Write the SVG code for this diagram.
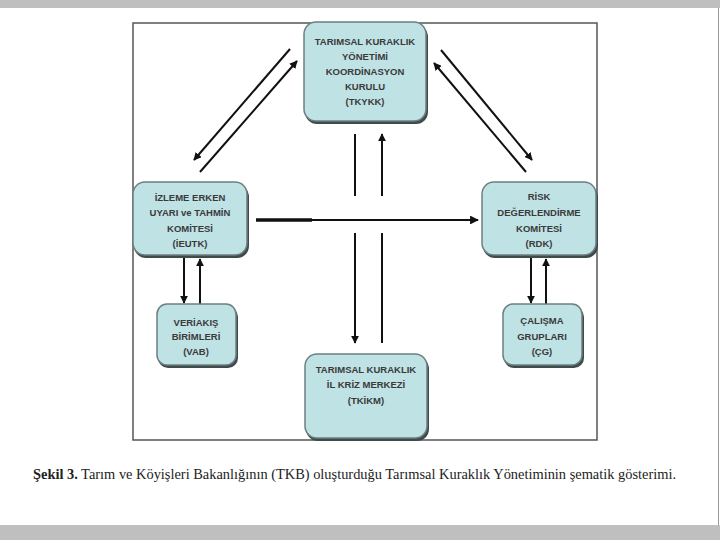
<svg xmlns="http://www.w3.org/2000/svg" width="720" height="540" viewBox="0 0 720 540">
<defs>
<marker id="ah" viewBox="0 0 10 10" refX="9" refY="5" markerWidth="4" markerHeight="4" orient="auto-start-reverse">
<path d="M0,0 L10,5 L0,10 z" fill="#111"/>
</marker>
<style>
.box{fill:#bfe2e5;stroke:#6d7f80;stroke-width:1.5}
.sh{fill:#3f4a4b}
.t{font-family:"Liberation Sans",Arial,sans-serif;font-size:9.5px;font-weight:bold;fill:#3a3a3a;text-anchor:middle}
.c{stroke:#111;stroke-width:2;fill:none}
.cap{font-family:"Liberation Serif","Times New Roman",serif;font-size:14.5px;fill:#222}
</style>
</defs>
<rect x="0" y="0" width="720" height="540" fill="#fff"/>
<rect x="0" y="0" width="720" height="8" fill="#bfbfbf"/>
<rect x="0" y="525" width="720" height="15" fill="#bfbfbf"/>
<line x1="718.5" y1="8" x2="718.5" y2="525" stroke="#999" stroke-width="1"/>
<rect id="frame" x="133" y="23" width="464" height="417" fill="none" stroke="#555" stroke-width="1.5"/>

<g id="connectors">
<line class="c" x1="290" y1="49" x2="194" y2="160" marker-end="url(#ah)"/>
<line class="c" x1="200" y1="172" x2="297" y2="61" marker-end="url(#ah)"/>
<line class="c" x1="526" y1="172" x2="434" y2="63" marker-end="url(#ah)"/>
<line class="c" x1="441" y1="50" x2="532" y2="160" marker-end="url(#ah)"/>
<line class="c" x1="355" y1="134" x2="355" y2="196"/>
<line class="c" x1="355" y1="233" x2="355" y2="343" marker-end="url(#ah)"/>
<line class="c" x1="382" y1="343" x2="382" y2="233"/>
<line class="c" x1="382" y1="196" x2="382" y2="134" marker-end="url(#ah)"/>
<line x1="256" y1="220" x2="478" y2="220" stroke="#111" stroke-width="2.2" marker-end="url(#ah)"/>
<line x1="256" y1="220" x2="312" y2="220" stroke="#111" stroke-width="3.5"/>
<line class="c" x1="184" y1="258" x2="184" y2="303" marker-end="url(#ah)"/>
<line class="c" x1="200" y1="304" x2="200" y2="259" marker-end="url(#ah)" stroke-width="1.3"/>
<line class="c" x1="531" y1="258" x2="531" y2="303" marker-end="url(#ah)"/>
<line class="c" x1="546" y1="304" x2="546" y2="259" marker-end="url(#ah)" stroke-width="1.3"/>
</g>

<g id="tkykk">
<rect class="sh" x="305" y="25" width="123" height="99" rx="12"/>
<rect class="box" x="304" y="22" width="122" height="99" rx="12"/>
<text class="t" x="365" y="45">TARIMSAL KURAKLIK</text>
<text class="t" x="365" y="60">YÖNETİMİ</text>
<text class="t" x="365" y="75">KOORDİNASYON</text>
<text class="t" x="365" y="90">KURULU</text>
<text class="t" x="365" y="105">(TKYKK)</text>
</g>

<g id="ieutk">
<rect class="sh" x="134" y="185" width="115" height="73" rx="12"/>
<rect class="box" x="133" y="182" width="114" height="73" rx="12"/>
<text class="t" x="190" y="201">İZLEME ERKEN</text>
<text class="t" x="190" y="216">UYARI ve TAHMİN</text>
<text class="t" x="190" y="232">KOMİTESİ</text>
<text class="t" x="190" y="247">(İEUTK)</text>
</g>

<g id="rdk">
<rect class="sh" x="483" y="185" width="115" height="73" rx="12"/>
<rect class="box" x="482" y="182" width="114" height="73" rx="12"/>
<text class="t" x="539" y="200">RİSK</text>
<text class="t" x="539" y="216">DEĞERLENDİRME</text>
<text class="t" x="539" y="232">KOMİTESİ</text>
<text class="t" x="539" y="247">(RDK)</text>
</g>

<g id="vab">
<rect class="sh" x="158" y="307" width="80" height="61" rx="10"/>
<rect class="box" x="157" y="304" width="79" height="61" rx="10"/>
<text class="t" x="196" y="326">VERİAKIŞ</text>
<text class="t" x="196" y="340">BİRİMLERİ</text>
<text class="t" x="196" y="355">(VAB)</text>
</g>

<g id="cg">
<rect class="sh" x="504" y="307" width="80" height="61" rx="10"/>
<rect class="box" x="503" y="304" width="79" height="61" rx="10"/>
<text class="t" x="542" y="324">ÇALIŞMA</text>
<text class="t" x="542" y="340">GRUPLARI</text>
<text class="t" x="542" y="355">(ÇG)</text>
</g>

<g id="tkikm">
<rect class="sh" x="306" y="357" width="123" height="84" rx="12"/>
<rect class="box" x="305" y="354" width="122" height="84" rx="12"/>
<text class="t" x="366" y="373">TARIMSAL KURAKLIK</text>
<text class="t" x="366" y="388">İL KRİZ MERKEZİ</text>
<text class="t" x="366" y="404">(TKİKM)</text>
</g>

<text class="cap" x="33" y="479" textLength="643" lengthAdjust="spacingAndGlyphs"><tspan font-weight="bold">Şekil 3.</tspan> Tarım ve Köyişleri Bakanlığının (TKB) oluşturduğu Tarımsal Kuraklık Yönetiminin şematik gösterimi.</text>
</svg>
